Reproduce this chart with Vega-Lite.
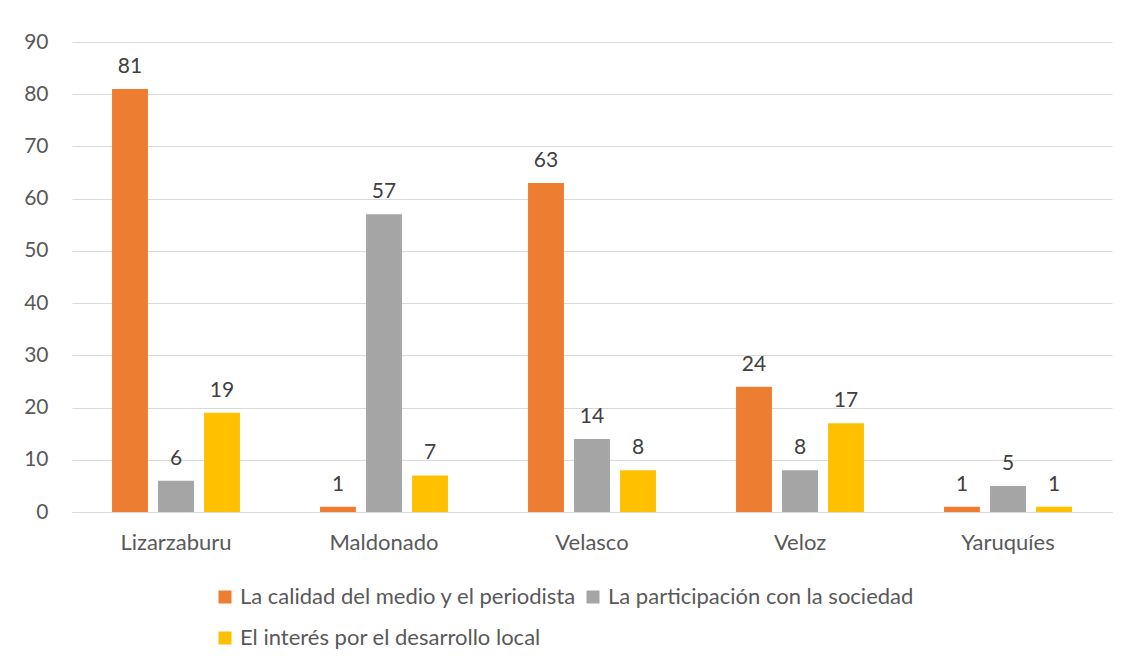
{
  "$schema": "https://vega.github.io/schema/vega-lite/v6.json",
  "width": 1040,
  "height": 470,
  "autosize": {"type": "none"},
  "padding": {"left": 72, "top": 42, "right": 19, "bottom": 154},
  "background": "white",
  "config": {"font": "Lato", "view": {"stroke": null}},
  "data": {
    "values": [
      {"barrio": "Lizarzaburu", "criterio": "La calidad del medio y el periodista", "valor": 81},
      {"barrio": "Lizarzaburu", "criterio": "La participación con la sociedad", "valor": 6},
      {"barrio": "Lizarzaburu", "criterio": "El interés por el desarrollo local", "valor": 19},
      {"barrio": "Maldonado", "criterio": "La calidad del medio y el periodista", "valor": 1},
      {"barrio": "Maldonado", "criterio": "La participación con la sociedad", "valor": 57},
      {"barrio": "Maldonado", "criterio": "El interés por el desarrollo local", "valor": 7},
      {"barrio": "Velasco", "criterio": "La calidad del medio y el periodista", "valor": 63},
      {"barrio": "Velasco", "criterio": "La participación con la sociedad", "valor": 14},
      {"barrio": "Velasco", "criterio": "El interés por el desarrollo local", "valor": 8},
      {"barrio": "Veloz", "criterio": "La calidad del medio y el periodista", "valor": 24},
      {"barrio": "Veloz", "criterio": "La participación con la sociedad", "valor": 8},
      {"barrio": "Veloz", "criterio": "El interés por el desarrollo local", "valor": 17},
      {"barrio": "Yaruquíes", "criterio": "La calidad del medio y el periodista", "valor": 1},
      {"barrio": "Yaruquíes", "criterio": "La participación con la sociedad", "valor": 5},
      {"barrio": "Yaruquíes", "criterio": "El interés por el desarrollo local", "valor": 1}
    ]
  },
  "encoding": {
    "x": {
      "field": "barrio", "type": "nominal",
      "sort": ["Lizarzaburu", "Maldonado", "Velasco", "Veloz", "Yaruquíes"],
      "scale": {"paddingInner": 0.385, "paddingOuter": 0.1925},
      "axis": {"title": null, "labelAngle": 0, "labelFontSize": 22, "labelColor": "#595959", "labelPadding": 20, "ticks": false, "domainColor": "#d9d9d9", "grid": false}
    },
    "xOffset": {
      "field": "criterio", "type": "nominal",
      "sort": ["La calidad del medio y el periodista", "La participación con la sociedad", "El interés por el desarrollo local"],
      "scale": {"paddingInner": 0.22}
    },
    "y": {
      "field": "valor", "type": "quantitative",
      "scale": {"domain": [0, 90], "nice": false},
      "axis": {"title": null, "values": [0,10,20,30,40,50,60,70,80,90], "labelFontSize": 21, "labelColor": "#595959", "labelPadding": 24, "ticks": false, "domain": false, "gridColor": "#d9d9d9"}
    }
  },
  "layer": [
    {
      "mark": {"type": "bar"},
      "encoding": {
        "color": {
          "field": "criterio", "type": "nominal",
          "scale": {
            "domain": ["La calidad del medio y el periodista", "La participación con la sociedad", "El interés por el desarrollo local"],
            "range": ["#ED7D31", "#A5A5A5", "#FFC000"]
          },
          "legend": {
            "title": null, "orient": "none", "legendX": 142, "legendY": 544,
            "columns": 2, "direction": "horizontal",
            "labelFontSize": 22, "labelColor": "#595959", "labelLimit": 600, "labelOffset": 4,
            "symbolType": "square", "symbolSize": 169, "symbolStrokeWidth": 0,
            "rowPadding": 19, "columnPadding": 5
          }
        }
      }
    },
    {
      "mark": {"type": "text", "dy": -16, "baseline": "alphabetic", "fontSize": 21, "color": "#404040"},
      "encoding": {"text": {"field": "valor", "type": "quantitative"}}
    }
  ]
}
